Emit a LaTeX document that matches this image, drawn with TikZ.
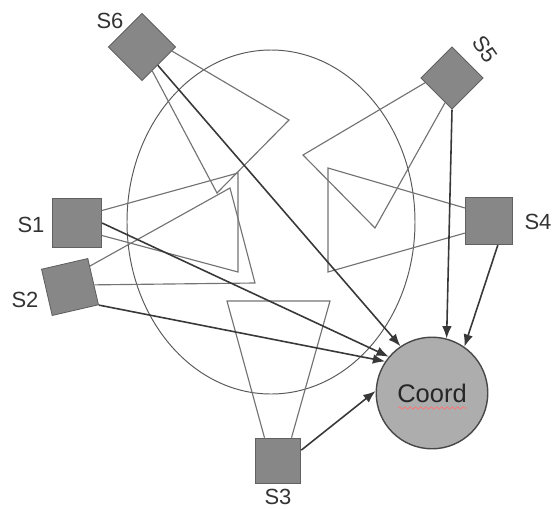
\documentclass[tikz,border=0pt]{standalone}
\usepackage{fontspec}
\setmainfont{Liberation Sans}
\usetikzlibrary{arrows.meta,calc,decorations.pathmorphing}

\begin{document}
\begin{tikzpicture}[x=0.02cm,y=-0.02cm,
    sensor/.style={draw=black!62,fill=black!47,inner sep=0pt,minimum size=27pt,line width=0.5pt},
    sink/.style={circle,draw=black!72,fill=black!32,inner sep=0pt,minimum size=63.5pt,line width=0.8pt,font=\fontsize{14.5}{17}\selectfont,text=black!85},
    lbl/.style={font=\fontsize{12.5}{15}\selectfont,text=black!80},
    cone/.style={draw=black!55,line width=0.65pt},
    link/.style={draw=black!78,line width=0.9pt,-{Latex[length=7pt,width=5.5pt]}}]
  \useasboundingbox (0,0) rectangle (552,508);

  % area
  \draw[black!65,line width=0.55pt] (271,222) ellipse [x radius=144,y radius=172];

  % sensors
  \node (s1) at (77,223) [sensor,minimum size=28pt] {};
  \node (s2) at (70,287) [sensor,rotate=13] {};
  \node (s3) at (278,461) [sensor,minimum size=26pt] {};
  \node (s4) at (489,221) [sensor] {};
  \node (s5) at (452,78) [sensor,rotate=45,minimum size=25pt] {};
  \node (s6) at (142,47) [sensor,rotate=45] {};
  \node (coord) at (432,393) [sink] {Coord};

  % labels
  \node (l1) at (31,225) [lbl] {S1};
  \node (l2) at (25,300) [lbl] {S2};
  \node (l3) at (278,497) [lbl] {S3};
  \node (l4) at (538,222) [lbl] {S4};
  \node (l5) at (485,49) [lbl,rotate=-55,inner sep=1pt] {S5};
  \node (l6) at (110,21) [lbl] {S6};

  % cones
  \coordinate (c1a) at (238,173);
  \coordinate (c1b) at (238,272);
  \coordinate (c2a) at (230,188);
  \coordinate (c2b) at (255,283);
  \coordinate (c3a) at (227,301);
  \coordinate (c3b) at (330,301);
  \coordinate (c4a) at (328,168);
  \coordinate (c4b) at (328,272);
  \coordinate (c5a) at (303,155);
  \coordinate (c5b) at (375,228);
  \coordinate (c6a) at (289,120);
  \coordinate (c6b) at (217,193);

  \draw[cone] ($(s1.north east)!0.25!(s1.south east)$) -- (c1a) -- (c1b) -- ($(s1.north east)!0.75!(s1.south east)$);
  \draw[cone] ($(s2.north east)!0.17!(s2.south east)$) -- (c2a) -- (c2b) -- ($(s2.north east)!0.57!(s2.south east)$);
  \draw[cone] ($(s3.north west)!0.21!(s3.north east)$) -- (c3a) -- (c3b) -- ($(s3.north west)!0.79!(s3.north east)$);
  \draw[cone] ($(s4.north west)!0.23!(s4.south west)$) -- (c4a) -- (c4b) -- ($(s4.north west)!0.75!(s4.south west)$);
  \draw[cone] ($(s5.north west)!0.15!(s5.south west)$) -- (c5a) -- (c5b) -- ($(s5.north west)!0.78!(s5.south west)$);
  \draw[cone] ($(s6.south west)!0.88!(s6.south east)$) -- (c6a) -- (c6b) -- ($(s6.south west)!0.3!(s6.south east)$);

  % links
  \draw[link] (s6) -- (coord.124);
  \draw[link] (s1.east) -- (coord.140);
  \draw[link] (s2.south east) -- (coord.146);
  \draw[link] (s3.25) -- (coord.178);
  \draw[link] (s5.south west) -- (coord.75);
  \draw[link] (s4.-70) -- (coord.55);

  % spelling mark
  \draw[red!55,line width=0.4pt,decorate,decoration={snake,amplitude=0.7pt,segment length=3pt}] ($(coord.center)+(-34,15)$) -- ($(coord.center)+(35,15)$);
\end{tikzpicture}
\end{document}
